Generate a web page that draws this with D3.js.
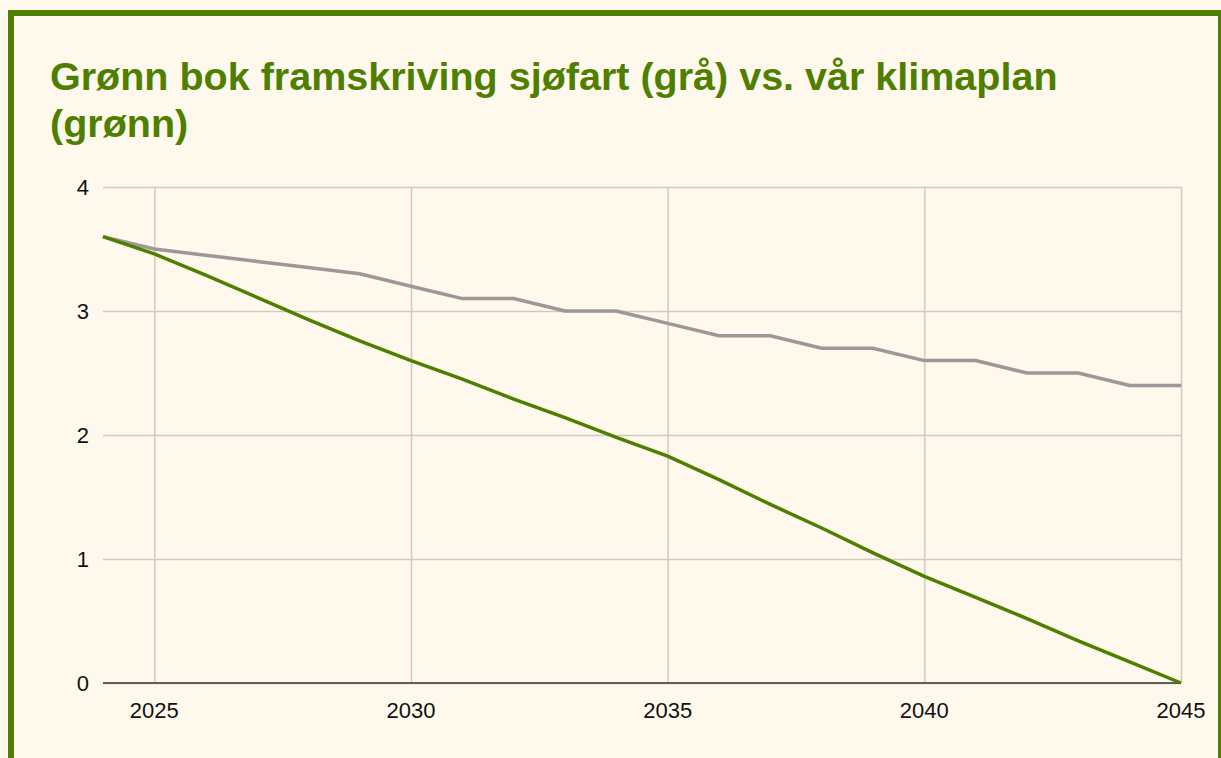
<!DOCTYPE html>
<html>
<head>
<meta charset="utf-8">
<script src="https://cdn.jsdelivr.net/npm/d3@7"></script>
<style>
  body { margin: 0; background: #fef9ec; overflow: hidden; }
  svg { display: block; }
</style>
</head>
<body>
<script>
// data
let years = d3.range(2024, 2046);
let gronnBok = [3.6, 3.5, 3.45, 3.4, 3.35, 3.3, 3.2, 3.1, 3.1, 3.0, 3.0, 2.9, 2.8, 2.8, 2.7, 2.7, 2.6, 2.6, 2.5, 2.5, 2.4, 2.4];
let klimaplan = [3.6, 3.46, 3.29, 3.11, 2.93, 2.76, 2.6, 2.45, 2.29, 2.14, 1.98, 1.83, 1.64, 1.44, 1.25, 1.05, 0.86, 0.69, 0.52, 0.34, 0.17, 0];
let xTicks = [2025, 2030, 2035, 2040, 2045];
let yTicks = [0, 1, 2, 3, 4];
let titleLines = ['Grønn bok framskriving sjøfart (grå) vs. vår klimaplan', '(grønn)'];

let w = 1221;
let h = 758;
let green = '#4e7f00';
let font = 'Liberation Sans, Arial, sans-serif';

let svg = d3.select('body').append('svg')
    .attr('width', w)
    .attr('height', h);

svg.append('rect')
    .attr('width', w).attr('height', h)
    .attr('fill', '#fef9ec');

// frame
svg.append('rect')
    .attr('x', 11).attr('y', 13)
    .attr('width', 1210).attr('height', 900)
    .attr('fill', 'none')
    .attr('stroke', green)
    .attr('stroke-width', 6);

svg.selectAll('.title')
    .data(titleLines)
    .enter()
    .append('text')
    .attr('class', 'title')
    .text(d => d)
    .attr('x', 50)
    .attr('y', (d, i) => 90 + i * 47)
    .attr('font-family', font)
    .attr('font-weight', 'bold')
    .attr('font-size', 39.5)
    .attr('fill', green);

let x = d3.scaleLinear().domain([2024, 2045]).range([103, 1181]);
let y = d3.scaleLinear().domain([0, 4]).range([683, 187]);

// grid
svg.append('g')
    .attr('transform', 'translate(103,0)')
    .call(d3.axisLeft(y).tickValues(yTicks).tickSize(-(1181 - 103)).tickFormat(''))
    .call(g => g.select('.domain').remove())
    .selectAll('line').attr('stroke', '#cfcbc0').attr('stroke-width', 1.5);

svg.append('g')
    .attr('transform', 'translate(0,683)')
    .call(d3.axisBottom(x).tickValues(xTicks).tickSize(-(683 - 187)).tickFormat(''))
    .call(g => g.select('.domain').remove())
    .selectAll('line').attr('stroke', '#cfcbc0').attr('stroke-width', 1.5);

// baseline
svg.append('line')
    .attr('x1', 103).attr('x2', 1181)
    .attr('y1', y(0)).attr('y2', y(0))
    .attr('stroke', '#333').attr('stroke-width', 1.5);

// labels
svg.selectAll('.ylab')
    .data(yTicks)
    .enter()
    .append('text')
    .attr('class', 'ylab')
    .text(d => d)
    .attr('x', 89)
    .attr('y', d => y(d) + 8)
    .attr('text-anchor', 'end')
    .attr('font-family', font)
    .attr('font-size', 22)
    .attr('fill', '#111');

svg.selectAll('.xlab')
    .data(xTicks)
    .enter()
    .append('text')
    .attr('class', 'xlab')
    .text(d => d)
    .attr('x', d => x(d))
    .attr('y', 718)
    .attr('text-anchor', 'middle')
    .attr('font-family', font)
    .attr('font-size', 22)
    .attr('fill', '#111');

let line = d3.line()
    .x((d, i) => x(years[i]))
    .y(d => y(d));

svg.append('path')
    .datum(gronnBok)
    .attr('d', line)
    .attr('fill', 'none')
    .attr('stroke', '#9a9899')
    .attr('stroke-width', 3.5);

svg.append('path')
    .datum(klimaplan)
    .attr('d', line)
    .attr('fill', 'none')
    .attr('stroke', green)
    .attr('stroke-width', 3.5);
</script>
</body>
</html>
